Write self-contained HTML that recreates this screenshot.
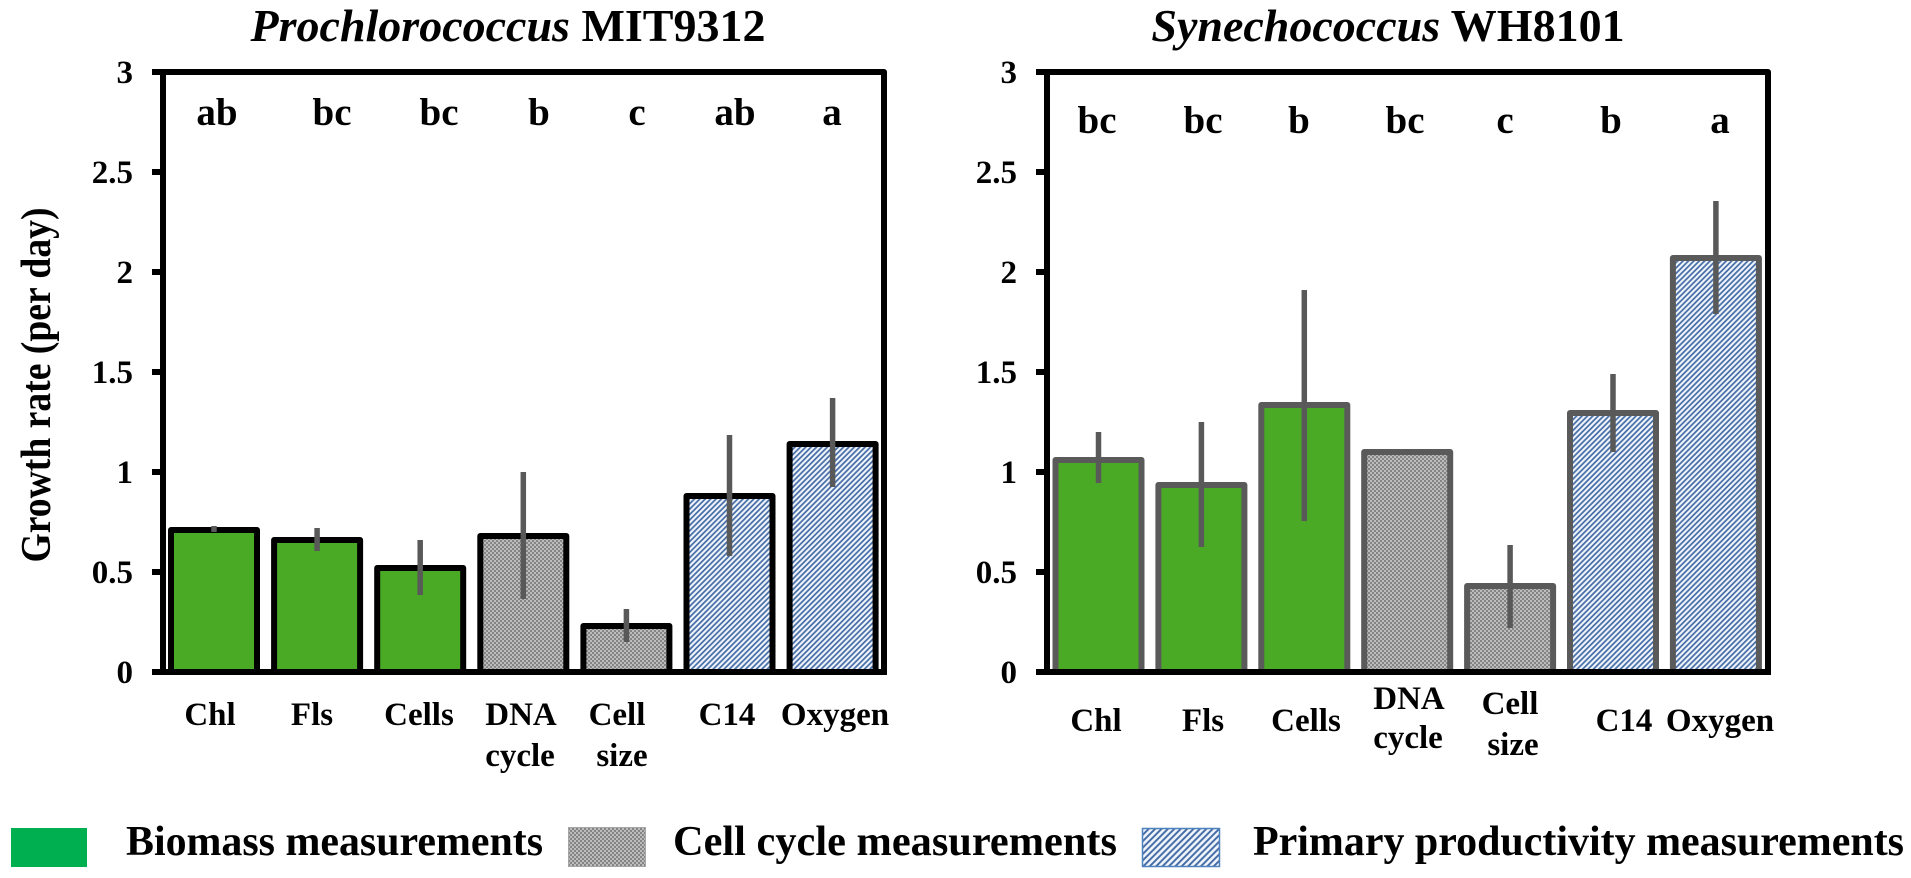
<!DOCTYPE html>
<html lang="en">
<head>
<meta charset="utf-8">
<title>Growth rate measurements</title>
<style>
html,body{margin:0;padding:0;background:#fff;width:1911px;height:878px;overflow:hidden}
svg{display:block}
text{font-family:"Liberation Serif",serif;font-weight:bold;fill:#000}
.tick{font-size:33px;text-anchor:end}
.sig{font-size:39px;text-anchor:middle}
.cat{font-size:33px;text-anchor:middle}
.title{font-size:46px;text-anchor:middle}
.legend{font-size:42px}
</style>
</head>
<body>
<svg id="chart" xmlns="http://www.w3.org/2000/svg" width="1911" height="878" viewBox="0 0 1911 878">
<defs>
<pattern id="stipple" width="4" height="4" patternUnits="userSpaceOnUse">
<rect width="4" height="4" fill="#bcbcbc"/>
<rect width="2" height="2" fill="#858585"/>
<rect x="2" y="2" width="2" height="2" fill="#858585"/>
</pattern>
<pattern id="hatch" width="5.4" height="5.4" patternUnits="userSpaceOnUse">
<rect width="5.4" height="5.4" fill="#f1f6fc"/>
<path d="M-1,1 L1,-1 M0,5.4 L5.4,0 M4.4,6.4 L6.4,4.4" stroke="#446ba5" stroke-width="1.7" fill="none"/>
</pattern>
<pattern id="hatch-legend" width="6.4" height="6.4" patternUnits="userSpaceOnUse">
<rect width="6.4" height="6.4" fill="#f1f6fc"/>
<path d="M-1,1 L1,-1 M0,6.4 L6.4,0 M5.4,7.4 L7.4,5.4" stroke="#446ba5" stroke-width="2" fill="none"/>
</pattern>
</defs>

<g id="panel-left"></g>
<g id="panel-right"></g>

<text class="title" x="508" y="41"><tspan font-style="italic">Prochlorococcus</tspan> MIT9312</text>
<text class="title" x="1388" y="41"><tspan font-style="italic">Synechococcus</tspan> WH8101</text>
<text font-size="42" text-anchor="middle" textLength="355" lengthAdjust="spacingAndGlyphs" transform="translate(50,385) rotate(-90)">Growth rate (per day)</text>

<g>
<text class="sig" x="217" y="125">ab</text>
<text class="sig" x="332" y="125">bc</text>
<text class="sig" x="439" y="125">bc</text>
<text class="sig" x="539" y="125">b</text>
<text class="sig" x="637" y="125">c</text>
<text class="sig" x="735" y="125">ab</text>
<text class="sig" x="832" y="125">a</text>
</g>
<g>
<text class="sig" x="1097" y="133">bc</text>
<text class="sig" x="1203" y="133">bc</text>
<text class="sig" x="1299" y="133">b</text>
<text class="sig" x="1405" y="133">bc</text>
<text class="sig" x="1505" y="133">c</text>
<text class="sig" x="1611" y="133">b</text>
<text class="sig" x="1720" y="133">a</text>
</g>

<g>
<text class="cat" x="210" y="725">Chl</text>
<text class="cat" x="312" y="725">Fls</text>
<text class="cat" x="419" y="725">Cells</text>
<text class="cat" x="521" y="725">DNA</text>
<text class="cat" x="520" y="766">cycle</text>
<text class="cat" x="617" y="725">Cell</text>
<text class="cat" x="622" y="766">size</text>
<text class="cat" x="727" y="725">C14</text>
<text class="cat" x="835" y="725">Oxygen</text>
</g>
<g>
<text class="cat" x="1096" y="731">Chl</text>
<text class="cat" x="1203" y="731">Fls</text>
<text class="cat" x="1306" y="731">Cells</text>
<text class="cat" x="1409" y="709">DNA</text>
<text class="cat" x="1408" y="748">cycle</text>
<text class="cat" x="1510" y="714">Cell</text>
<text class="cat" x="1513" y="755">size</text>
<text class="cat" x="1624" y="731">C14</text>
<text class="cat" x="1720" y="731">Oxygen</text>
</g>

<g>
<rect x="11" y="828" width="76" height="39" fill="#00b050"/>
<text class="legend" x="126" y="855" textLength="417" lengthAdjust="spacingAndGlyphs">Biomass measurements</text>
<rect x="568.5" y="827.5" width="77" height="39" fill="url(#stipple)" stroke="#a6a6a6"/>
<text class="legend" x="673" y="855" textLength="444" lengthAdjust="spacingAndGlyphs">Cell cycle measurements</text>
<rect x="1142.5" y="828.5" width="77" height="38" fill="url(#hatch-legend)" stroke="#4f81bd" stroke-width="1.5"/>
<text class="legend" x="1253" y="855" textLength="651" lengthAdjust="spacingAndGlyphs">Primary productivity measurements</text>
</g>
</svg>

<script>
// Chart data
const categories = ['Chl', 'Fls', 'Cells', 'DNA cycle', 'Cell size', 'C14', 'Oxygen'];
const groups = ['biomass', 'biomass', 'biomass', 'cycle', 'cycle', 'productivity', 'productivity'];
const yTicks = [0, 0.5, 1, 1.5, 2, 2.5, 3];
const yTickLabels = ['0', '0.5', '1', '1.5', '2', '2.5', '3'];
const proValues = [0.71, 0.66, 0.52, 0.68, 0.23, 0.88, 1.14];
const proErrLow = [0.70, 0.605, 0.385, 0.365, 0.15, 0.58, 0.925];
const proErrHigh = [0.73, 0.72, 0.66, 1.0, 0.315, 1.185, 1.37];
const synValues = [1.06, 0.935, 1.335, 1.10, 0.43, 1.295, 2.07];
const synErrLow = [0.945, 0.625, 0.755, 1.09, 0.22, 1.10, 1.79];
const synErrHigh = [1.2, 1.25, 1.91, 1.115, 0.635, 1.49, 2.355];

const NS = 'http://www.w3.org/2000/svg';
const fills = { biomass: '#4aaa26', cycle: 'url(#stipple)', productivity: 'url(#hatch)' };

function yScale(v) { return 672 - v * 200; }

function make(parent, tag, attrs) {
  const el = document.createElementNS(NS, tag);
  for (const k in attrs) el.setAttribute(k, attrs[k]);
  parent.appendChild(el);
  return el;
}

function drawPanel(parent, opts, values, errLow, errHigh) {
  const xScale = i => opts.firstCenter + i * opts.step;
  const barW = 86;
  const bw = 6;

  values.forEach((v, i) => {
    const bar = make(parent, 'rect', {
      x: xScale(i) - barW / 2,
      y: yScale(v),
      width: barW,
      height: yScale(0) - yScale(v),
      fill: fills[groups[i]],
      stroke: opts.barStroke,
      'stroke-width': bw,
      'stroke-linejoin': 'round'
    });
    
    
  });

  values.forEach((v, i) => {
    const err = make(parent, 'line', {
      x1: xScale(i),
      x2: xScale(i),
      y1: yScale(errLow[i]),
      y2: yScale(errHigh[i]),
      stroke: '#595959',
      'stroke-width': 5.5
    });
    
    
  });

  const frame = make(parent, 'path', {
    d: 'M' + opts.left + ' ' + yScale(0) + ' V' + yScale(3) + ' H' + opts.right + ' V' + yScale(0),
    fill: 'none',
    stroke: '#000',
    'stroke-width': 6,
    'stroke-linejoin': 'round'
  });
  
  

  const xAxis = make(parent, 'line', {
    x1: opts.left - 11,
    x2: opts.right + 3,
    y1: yScale(0),
    y2: yScale(0),
    stroke: '#000',
    'stroke-width': 6
  });
  
  

  yTicks.forEach((t, i) => {
    const mark = make(parent, 'line', {
      x1: opts.left - 11,
      x2: opts.left,
      y1: yScale(t),
      y2: yScale(t),
      stroke: '#000',
      'stroke-width': 6
    });
    
    
    const label = make(parent, 'text', {
      class: 'tick',
      x: opts.left - 30,
      y: yScale(t) + 11
    });
    label.textContent = yTickLabels[i];
    
    
  });
}

drawPanel(document.getElementById('panel-left'),
  { left: 163, right: 884, firstCenter: 214, step: 103.1, barStroke: '#000' },
  proValues, proErrLow, proErrHigh);
drawPanel(document.getElementById('panel-right'),
  { left: 1047, right: 1768, firstCenter: 1098.5, step: 102.9, barStroke: '#5a5a5a' },
  synValues, synErrLow, synErrHigh);
</script>
</body>
</html>
